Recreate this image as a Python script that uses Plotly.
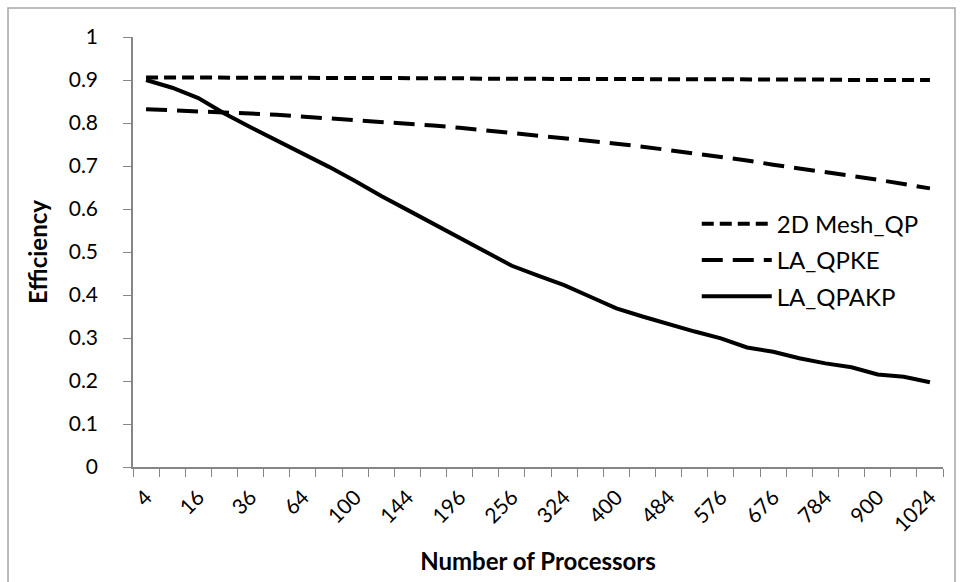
import plotly.graph_objects as go

processors = [str(n * n) for n in range(2, 33)]
tick_labels = [p if i % 2 == 0 else "" for i, p in enumerate(processors)]

mesh_qp = [0.906, 0.906, 0.906, 0.906, 0.905, 0.905, 0.905, 0.905, 0.905, 0.904,
           0.904, 0.904, 0.904, 0.903, 0.903, 0.903, 0.903, 0.903, 0.902, 0.902,
           0.902, 0.902, 0.902, 0.901, 0.901, 0.901, 0.901, 0.900, 0.900, 0.900,
           0.900]
la_qpke = [0.832, 0.830, 0.828, 0.825, 0.822, 0.819, 0.815, 0.812, 0.808, 0.803,
           0.799, 0.794, 0.789, 0.783, 0.778, 0.772, 0.766, 0.759, 0.752, 0.745,
           0.737, 0.730, 0.722, 0.713, 0.703, 0.695, 0.686, 0.677, 0.668, 0.658,
           0.648]
la_qpakp = [0.900, 0.882, 0.858, 0.822, 0.790, 0.760, 0.730, 0.698, 0.665, 0.630,
            0.598, 0.565, 0.532, 0.500, 0.468, 0.445, 0.423, 0.396, 0.369, 0.350,
            0.332, 0.315, 0.299, 0.278, 0.268, 0.253, 0.241, 0.232, 0.215, 0.210,
            0.197]

FONT = "Lato, 'Open Sans', sans-serif"
TICK_FS = 21
LEG_FS = 24
TITLE_FS = 24

fig = go.Figure()
fig.add_trace(go.Scatter(x=processors, y=mesh_qp, mode="lines", name="2D Mesh_QP",
                         legendgroup="a",
                         line=dict(color="black", width=4, dash="12px,6px")))
fig.add_trace(go.Scatter(x=processors, y=la_qpke, mode="lines", name="LA_QPKE",
                         legendgroup="b",
                         line=dict(color="black", width=4, dash="21px,10px")))
fig.add_trace(go.Scatter(x=processors, y=la_qpakp, mode="lines", name="LA_QPAKP",
                         legendgroup="c",
                         line=dict(color="black", width=4)))

fig.update_layout(
    width=960, height=582,
    margin=dict(l=133, r=17, t=37, b=115),
    paper_bgcolor="white", plot_bgcolor="white",
    font=dict(family=FONT, size=TICK_FS, color="black"),
    showlegend=True,
    legend=dict(x=0.696, y=0.617, xanchor="left", yanchor="top",
                bgcolor="rgba(0,0,0,0)", tracegroupgap=2,
                font=dict(size=LEG_FS), itemwidth=70),
    shapes=[dict(type="rect", xref="paper", yref="paper",
                 x0=-0.1543, x1=1.0148, y0=-0.3, y1=1.0674,
                 line=dict(color="#a6a6a6", width=1.5), layer="below")],
)
fig.update_xaxes(
    type="category", tickmode="array", tickvals=processors, ticktext=tick_labels,
    tickson="boundaries", ticks="outside", ticklen=8, tickcolor="#868686",
    tickangle=-45, showgrid=False, showline=True, linecolor="#868686", linewidth=1.5,
    tickfont=dict(size=TICK_FS), automargin=False, ticklabelstandoff=8,
    title=dict(text="<b>Number of Processors</b>", font=dict(size=TITLE_FS), standoff=18),
    range=[-0.5, 30.5],
)
fig.update_yaxes(
    range=[0, 1], dtick=0.1, tick0=0, ticks="outside", ticklen=8, tickcolor="#868686",
    showgrid=False, showline=True, linecolor="#868686", linewidth=1.5, zeroline=False,
    tickfont=dict(size=TICK_FS), automargin=False, ticklabelstandoff=21,
    title=dict(text="<b>Efficiency</b>", font=dict(size=TITLE_FS), standoff=14),
)

fig.write_html(
    "out.html",
    config={"displayModeBar": False},
    post_script="document.body.style.margin='0';document.body.style.overflow='hidden';",
)
